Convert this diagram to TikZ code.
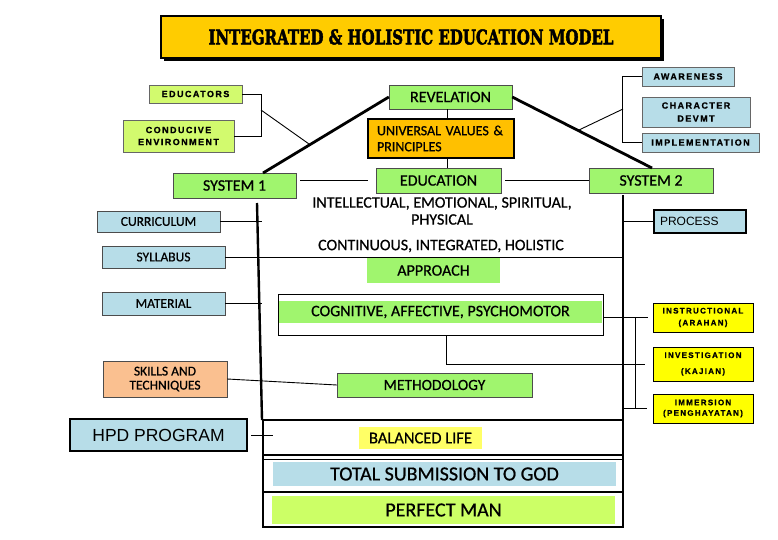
\documentclass[tikz,border=0pt]{standalone}
\usepackage{fontspec}
\setmainfont{Carlito}[FakeBold=0.6]
\newfontfamily\arialfont{Liberation Sans}
\newfontfamily\capsfont[LetterSpace=16, FakeBold=1]{Liberation Sans}
\newfontfamily\titlefont[FakeBold=2.5]{DejaVu Serif}
\usepackage{graphicx}
\usepackage{tikz}
\usetikzlibrary{positioning, calc, shadows}
\definecolor{titlegold}{RGB}{255,204,0}
\definecolor{sysgreen}{RGB}{160,245,110}
\definecolor{lightlime}{RGB}{210,250,110}
\definecolor{paleblue}{RGB}{183,221,232}
\definecolor{valueorange}{RGB}{255,192,0}
\definecolor{peach}{RGB}{250,192,144}
\definecolor{brightyellow}{RGB}{255,255,0}
\definecolor{softyellow}{RGB}{255,255,102}
\definecolor{perfectlime}{RGB}{204,255,102}

\tikzset{
  tempus/.style={font=\fontsize{16}{17}\selectfont},
  greenbox/.style={draw=black!70, fill=sysgreen, inner sep=0pt, tempus},
  sidebox/.style={draw=black!70, fill=paleblue, inner sep=0pt, font=\fontsize{13.5}{15}\selectfont, align=center},
  capsbox/.style={draw=black!60, fill=lightlime, inner sep=0pt, align=center, font=\capsfont\bfseries\fontsize{9}{12}\selectfont},
  methodbox/.style={draw=black, fill=brightyellow, inner sep=0pt, align=center, font=\capsfont\bfseries\fontsize{8}{12}\selectfont},
  roofline/.style={line width=2.8pt},
  wallline/.style={line width=2.4pt},
  frameline/.style={line width=1.8pt},
  link/.style={line width=0.9pt}
}

\begin{document}
\begin{tikzpicture}[x=1pt, y=-1pt]
  \useasboundingbox (0,0) rectangle (778,540);

  % Title
  \node[draw=black, line width=2pt, fill=titlegold, minimum width=500pt, minimum height=42pt,
        drop shadow={shadow xshift=3pt, shadow yshift=-3pt, fill=black, opacity=1}] (title) at (411,37)
    {\resizebox{405pt}{15pt}{\titlefont\bfseries INTEGRATED \& HOLISTIC EDUCATION MODEL}};

  % Roof
  \node[greenbox, minimum width=123pt, minimum height=24pt] (revelation) at (450.5,97) {REVELATION};
  \node[draw=black, line width=2pt, fill=valueorange, minimum width=146pt, minimum height=39pt,
        inner sep=0pt, text width=128pt, align=left, font=\fontsize{14}{16}\selectfont] (values) at (441,138.5)
    {UNIVERSAL VALUES \&\\PRINCIPLES};
  \node[greenbox, minimum width=125pt, minimum height=25pt] (education) at (438.5,180.5) {EDUCATION};
  \node[greenbox, minimum width=123pt, minimum height=25pt] (sys1) at (234.5,185.5) {SYSTEM 1};
  \node[greenbox, minimum width=124pt, minimum height=25pt] (sys2) at (651,180.5) {SYSTEM 2};

  % Left bracket
  \node[capsbox, minimum width=93pt, minimum height=18pt] (educators) at (195.5,94) {EDUCATORS};
  \node[capsbox, minimum width=111pt, minimum height=32pt] (conducive) at (178.5,136) {CONDUCIVE\\ENVIRONMENT};

  % Right bracket
  \node[capsbox, fill=paleblue, minimum width=92pt, minimum height=19pt] (awareness) at (688,76.5) {AWARENESS};
  \node[capsbox, fill=paleblue, minimum width=108pt, minimum height=30pt, font=\capsfont\bfseries\fontsize{9}{13}\selectfont] (character) at (696,112) {CHARACTER\\DEVMT};
  \node[capsbox, fill=paleblue, minimum width=117pt, minimum height=19pt] (implementation) at (700.5,142.5) {IMPLEMENTATION};

  % System 1 side
  \node[sidebox, minimum width=123pt, minimum height=21pt] (curriculum) at (158.5,221.5) {CURRICULUM};
  \node[sidebox, minimum width=123pt, minimum height=22pt] (syllabus) at (163.5,257) {SYLLABUS};
  \node[sidebox, minimum width=123pt, minimum height=23pt] (material) at (163.5,303.5) {MATERIAL};
  \node[sidebox, fill=peach, minimum width=124pt, minimum height=36pt, font=\fontsize{13.5}{14}\selectfont] (skills) at (165,379) {SKILLS AND\\TECHNIQUES};
  \node[draw=black, line width=2pt, fill=paleblue, minimum width=177pt, minimum height=32pt,
        font=\arialfont\fontsize{17.5}{20}\selectfont] (hpd) at (158.5,435) {HPD PROGRAM};

  % System 2 side
  \node[draw=black, line width=2pt, fill=paleblue, minimum width=92pt, minimum height=23pt, inner sep=0pt,
        text width=80pt, align=left, font=\arialfont\fontsize{12}{14}\selectfont] (process) at (700,221.5) {PROCESS};
  \node[methodbox, minimum width=100pt, minimum height=29pt] (instructional) at (703,317.5) {INSTRUCTIONAL\\(ARAHAN)};
  \node[methodbox, minimum width=100pt, minimum height=34pt, font=\capsfont\bfseries\fontsize{8}{16}\selectfont] (investigation) at (703,364) {INVESTIGATION\\(KAJIAN)};
  \node[methodbox, minimum width=100pt, minimum height=29pt, font=\capsfont\bfseries\fontsize{8}{10.5}\selectfont] (immersion) at (703,408.5) {IMMERSION\\(PENGHAYATAN)};

  % House body
  \node[tempus, align=center] (domains) at (442,211) {INTELLECTUAL, EMOTIONAL, SPIRITUAL,\\PHYSICAL};
  \node[tempus] (continuous) at (441,246) {CONTINUOUS, INTEGRATED, HOLISTIC};
  \node[fill=sysgreen, tempus, minimum width=133pt, minimum height=25pt, inner sep=0pt] (approach) at (433.5,270.5) {APPROACH};
  \node[draw=black, line width=1pt, minimum width=325pt, minimum height=41pt, inner sep=0pt] (cogframe) at (440.5,314.5) {};
  \node[fill=sysgreen, tempus, minimum width=323pt, minimum height=22pt, inner sep=0pt] (cognitive) at (440.5,312) {COGNITIVE, AFFECTIVE, PSYCHOMOTOR};
  \node[greenbox, minimum width=195pt, minimum height=24pt, font=\fontsize{15.5}{17}\selectfont] (methodology) at (434.5,385) {METHODOLOGY};
  \node[fill=softyellow, inner sep=0pt, minimum width=123pt, minimum height=22pt, font=\fontsize{16.5}{18}\selectfont] (balanced) at (420.5,438) {BALANCED LIFE};
  \node[fill=paleblue, inner sep=0pt, minimum width=343pt, minimum height=24pt, font=\fontsize{20}{22}\selectfont] (total) at (444.5,474) {TOTAL SUBMISSION TO GOD};
  \node[fill=perfectlime, inner sep=0pt, minimum width=343pt, minimum height=28pt, font=\fontsize{20}{22}\selectfont] (perfect) at (443.5,510) {PERFECT MAN};

  % Frame points
  \coordinate (eaveL) at (263,173);
  \coordinate (eaveR) at (652,168);
  \coordinate (wallLtop) at (257,203);
  \coordinate (wallLfoot) at (262,420);
  \coordinate (wallRtop) at (623,195);
  \coordinate (baseTL) at (263,420);
  \coordinate (baseBR) at (623,527);
  \coordinate (spine) at (447,0);
  \coordinate (cogdrop) at (446,0);
  \coordinate (bracketI) at (635,0);
  \coordinate (bracketL) at (261,110);
  \coordinate (bracketR) at (623,109);

  \draw[roofline] (eaveL) -- (revelation.west);
  \draw[roofline] (revelation.east) -- (eaveR);
  \draw[wallline] (wallLtop) -- (wallLfoot);
  \draw[wallline] (wallRtop) -- (wallRtop |- baseTL);
  \draw[frameline] (baseTL) rectangle (baseBR);
  \draw[frameline] (263,455) -- (623,455);
  \draw[frameline] (263,459.5) -- (623,459.5);
  \draw[frameline] (263,492) -- (623,492);

  % Connectors
  \draw[link] (educators.east) -- ++(19,0) |- (conducive.east);
  \draw[link] (bracketL) -- ($(eaveL)!0.373!(revelation.west)$);
  \draw[link] (awareness.west) -- ++(-19,0) |- (implementation.west);
  \draw[link] (bracketR) -- ($(revelation.east)!0.471!(eaveR)$);
  \draw[link] (revelation.south -| spine) -- (values.north -| spine);
  \draw[link] (values.south -| spine) -- (education.north -| spine);
  \draw[link, shorten <=4pt, shorten >=8pt] (sys1.east |- education.west) -- (education.west);
  \draw[link, shorten <=4pt] (education.east) -- (sys2.west);
  \draw[link] (curriculum.east) -- (curriculum.east -| wallLfoot);
  \draw[link] (syllabus.east) -- (syllabus.east -| wallRtop);
  \draw[link] (material.east) -- (material.east -| wallLfoot);
  \draw[link] (skills.east) -- (methodology.west);
  \draw[link, shorten <=3pt] (hpd.east) -- ++(25,0);
  \draw[link] (process.west -| wallRtop) -- (process.west);
  \draw[link, shorten >=5pt] (cogframe.east |- instructional.west) -- (instructional.west);
  \draw[link, shorten >=8pt] (cogframe.south -| cogdrop) |- (investigation.west);
  \draw[link] (instructional.west -| bracketI) -- (immersion.west -| bracketI);
  \draw[link, shorten >=6pt] (immersion.west -| wallRtop) -- (immersion.west);

\end{tikzpicture}
\end{document}
